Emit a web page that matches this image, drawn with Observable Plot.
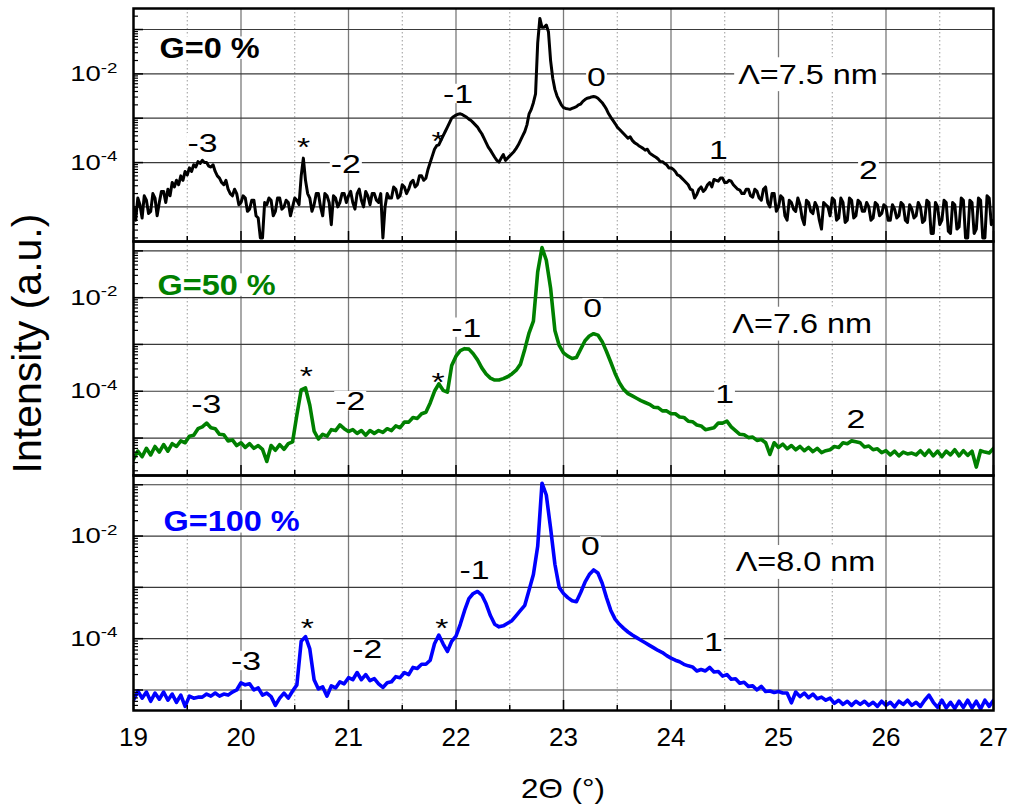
<!DOCTYPE html>
<html><head><meta charset="utf-8">
<script src="https://cdn.jsdelivr.net/npm/d3@7"></script>
<script src="https://cdn.jsdelivr.net/npm/@observablehq/plot@0.6"></script>
<style>
body{margin:0;background:#fff;}
#chart{position:relative;width:1013px;height:806px;font-family:"Liberation Sans",Arial,sans-serif;}
#chart svg{position:absolute;left:0;overflow:visible;}
</style></head><body><div id="chart"></div>
<script>
// ---- sampling positions (2θ, degrees) ----
const twoTheta_G0 = d3.range(0, 401).map(i => +(19 + i * 0.02).toFixed(2));   // step 0.02
const twoTheta_G50_G100 = d3.range(0, 201).map(i => +(19 + i * 0.04).toFixed(2)); // step 0.04

// ---- log10 of intensity (a.u.) ----
const log10I_G0 = [
-5.0,-5.3,-4.8,-4.95,-5.25,-4.75,-4.85,-5.15,-5.1,-4.7,-4.8,-5.2,-4.9,-4.65,-4.65,-4.9,-4.6,-4.75,-4.45,-4.55,
-4.4,-4.5,-4.3,-4.4,-4.2,-4.28,-4.12,-4.2,-4.05,-4.1,-3.98,-4.02,-3.95,-4.0,-4.0,-4.08,-4.1,-4.05,-4.2,-4.3,
-4.35,-4.45,-4.5,-4.4,-4.6,-4.7,-4.75,-4.6,-4.7,-4.95,-4.9,-4.75,-4.8,-5.1,-5.05,-4.85,-4.85,-5.2,-5.25,-5.7,
-5.7,-4.9,-4.95,-4.8,-4.85,-5.2,-5.1,-4.8,-4.8,-5.05,-5.0,-4.85,-4.9,-5.2,-5.0,-4.8,-4.85,-4.95,-4.3,-3.9,
-4.4,-4.7,-4.8,-5.1,-4.95,-4.7,-4.7,-5.0,-5.2,-4.7,-4.75,-4.9,-5.4,-4.75,-4.8,-5.0,-4.9,-4.7,-4.7,-4.9,
-4.75,-4.65,-4.9,-5.05,-4.7,-4.6,-4.85,-5.0,-4.65,-4.75,-4.95,-4.7,-4.7,-4.85,-4.9,-4.7,-5.7,-5.0,-4.7,-4.8,
-4.8,-4.55,-4.6,-4.8,-4.75,-4.5,-4.55,-4.7,-4.6,-4.45,-4.4,-4.55,-4.5,-4.3,-4.3,-4.4,-4.35,-4.15,-4.0,-3.85,
-3.7,-3.62,-3.6,-3.5,-3.4,-3.3,-3.2,-3.1,-3.0,-2.96,-2.93,-2.91,-2.9,-2.92,-2.95,-2.98,-3.02,-3.05,-3.1,-3.15,
-3.2,-3.28,-3.35,-3.45,-3.55,-3.65,-3.72,-3.8,-3.88,-3.95,-3.99,-3.9,-3.82,-3.95,-3.9,-3.85,-3.8,-3.75,-3.68,-3.6,
-3.5,-3.4,-3.3,-3.15,-2.9,-2.8,-2.65,-2.45,-1.3,-0.75,-0.95,-0.95,-0.9,-1.05,-1.7,-2.1,-2.35,-2.5,-2.6,-2.7,
-2.76,-2.78,-2.79,-2.8,-2.78,-2.76,-2.74,-2.7,-2.68,-2.62,-2.58,-2.55,-2.54,-2.52,-2.51,-2.52,-2.55,-2.6,-2.65,-2.72,
-2.8,-2.9,-2.98,-3.05,-3.12,-3.2,-3.25,-3.3,-3.35,-3.4,-3.45,-3.42,-3.5,-3.55,-3.58,-3.62,-3.65,-3.68,-3.72,-3.7,
-3.78,-3.82,-3.85,-3.88,-3.92,-3.98,-3.98,-4.02,-4.05,-4.12,-4.12,-4.15,-4.2,-4.28,-4.3,-4.35,-4.4,-4.45,-4.5,-4.6,
-4.62,-4.8,-4.72,-4.6,-4.55,-4.65,-4.6,-4.5,-4.45,-4.55,-4.38,-4.4,-4.42,-4.35,-4.35,-4.45,-4.45,-4.4,-4.42,-4.5,
-4.55,-4.6,-4.62,-4.7,-4.7,-4.6,-4.6,-4.75,-4.78,-4.6,-4.65,-4.8,-4.85,-4.6,-4.55,-4.9,-5.0,-4.7,-4.7,-5.1,
-5.0,-4.75,-4.8,-5.2,-5.3,-4.85,-4.9,-5.05,-5.1,-4.8,-4.95,-5.25,-5.4,-4.85,-4.9,-5.1,-5.15,-4.9,-5.0,-5.3,
-5.5,-4.9,-4.95,-5.0,-5.2,-4.8,-4.85,-5.3,-5.25,-4.8,-4.9,-5.35,-5.3,-4.8,-4.85,-5.25,-5.2,-4.85,-4.9,-5.1,
-5.1,-4.9,-5.0,-5.3,-5.25,-4.9,-4.95,-5.2,-5.15,-4.95,-5.0,-5.3,-5.3,-4.95,-5.05,-5.25,-5.2,-4.9,-4.95,-5.3,
-5.35,-4.95,-5.05,-5.25,-5.2,-4.9,-5.0,-5.35,-5.3,-4.85,-4.9,-5.6,-5.6,-4.9,-5.0,-5.4,-5.3,-4.85,-4.9,-5.55,
-5.6,-4.9,-4.95,-5.5,-5.45,-4.8,-4.85,-5.7,-5.7,-4.85,-4.9,-5.6,-5.5,-4.8,-4.85,-5.7,-5.7,-4.75,-4.8,-5.4,
-5.3
];
const log10I_G50 = [
-5.45,-5.28,-5.4,-5.22,-5.36,-5.18,-5.3,-5.14,-5.28,-5.12,
-5.18,-5.06,-5.1,-4.96,-4.94,-4.8,-4.76,-4.68,-4.78,-4.8,
-4.92,-4.93,-5.06,-5.04,-5.16,-5.1,-5.2,-5.12,-5.22,-5.16,
-5.24,-5.5,-5.16,-5.26,-5.14,-5.24,-5.12,-5.08,-4.5,-3.97,
-3.93,-4.3,-4.85,-5.02,-4.92,-4.96,-4.82,-4.84,-4.72,-4.8,
-4.86,-4.82,-4.9,-4.84,-4.94,-4.84,-4.9,-4.84,-4.88,-4.8,
-4.84,-4.74,-4.78,-4.66,-4.66,-4.56,-4.58,-4.48,-4.45,-4.25,
-4.0,-3.84,-3.98,-4.02,-3.45,-3.25,-3.13,-3.09,-3.1,-3.2,
-3.33,-3.5,-3.63,-3.72,-3.76,-3.76,-3.73,-3.69,-3.63,-3.55,
-3.42,-3.1,-2.75,-2.5,-1.45,-0.93,-1.2,-1.8,-2.7,-3.02,
-3.18,-3.25,-3.3,-3.28,-3.1,-2.92,-2.82,-2.77,-2.8,-2.94,
-3.15,-3.38,-3.62,-3.82,-3.96,-4.05,-4.1,-4.15,-4.2,-4.24,
-4.28,-4.34,-4.35,-4.42,-4.42,-4.48,-4.48,-4.55,-4.56,-4.64,
-4.65,-4.72,-4.74,-4.82,-4.8,-4.78,-4.68,-4.68,-4.64,-4.76,
-4.84,-4.92,-4.93,-4.99,-4.98,-5.05,-5.03,-5.1,-5.35,-5.1,
-5.2,-5.13,-5.23,-5.16,-5.25,-5.18,-5.27,-5.2,-5.29,-5.22,
-5.31,-5.27,-5.25,-5.18,-5.2,-5.1,-5.12,-5.06,-5.08,-5.1,
-5.19,-5.17,-5.25,-5.23,-5.31,-5.27,-5.36,-5.28,-5.38,-5.3,
-5.34,-5.32,-5.36,-5.27,-5.37,-5.26,-5.38,-5.28,-5.4,-5.28,
-5.36,-5.25,-5.38,-5.27,-5.37,-5.28,-5.62,-5.27,-5.3,-5.32,
-5.22
];
const log10I_G100 = [
-5.2,-5.02,-5.16,-5.04,-5.22,-5.06,-5.18,-5.04,-5.2,-5.08,
-5.24,-5.1,-5.32,-5.12,-5.16,-5.14,-5.14,-5.08,-5.12,-5.06,
-5.12,-5.08,-5.1,-5.04,-5.0,-4.86,-4.9,-4.88,-5.0,-4.96,
-5.1,-5.06,-5.13,-5.3,-5.16,-5.06,-5.16,-5.02,-4.9,-4.05,
-3.96,-4.2,-4.8,-4.98,-4.94,-5.12,-4.92,-4.96,-4.84,-4.88,
-4.76,-4.8,-4.66,-4.8,-4.7,-4.82,-4.78,-4.88,-4.95,-4.86,
-4.84,-4.74,-4.76,-4.66,-4.7,-4.56,-4.58,-4.5,-4.5,-4.42,
-4.1,-3.93,-4.1,-4.25,-4.05,-3.95,-3.72,-3.45,-3.22,-3.12,
-3.08,-3.15,-3.32,-3.55,-3.72,-3.77,-3.75,-3.7,-3.65,-3.55,
-3.45,-3.35,-3.05,-2.75,-2.2,-0.97,-1.2,-1.85,-2.55,-3.0,
-3.12,-3.2,-3.26,-3.28,-3.1,-2.9,-2.75,-2.66,-2.72,-2.92,
-3.2,-3.45,-3.62,-3.72,-3.8,-3.87,-3.93,-3.98,-4.03,-4.08,
-4.13,-4.18,-4.23,-4.27,-4.33,-4.38,-4.42,-4.45,-4.5,-4.53,
-4.55,-4.63,-4.6,-4.63,-4.56,-4.65,-4.64,-4.73,-4.7,-4.79,
-4.78,-4.87,-4.85,-4.93,-4.92,-5.0,-4.93,-5.03,-5.02,-5.05,
-5.03,-5.06,-5.06,-5.25,-5.04,-5.13,-5.06,-5.15,-5.08,-5.17,
-5.14,-5.2,-5.16,-5.26,-5.2,-5.28,-5.22,-5.3,-5.22,-5.28,
-5.22,-5.3,-5.24,-5.32,-5.22,-5.3,-5.24,-5.33,-5.22,-5.28,
-5.2,-5.3,-5.24,-5.32,-5.2,-5.1,-5.24,-5.34,-5.2,-5.35,
-5.24,-5.36,-5.22,-5.34,-5.2,-5.35,-5.22,-5.37,-5.2,-5.32,
-5.2
];

// ---- annotation texts (positions in data units: 2θ, log10 I) ----
const sampleNames = ["G=0 %", "G=50 %", "G=100 %"];
const sampleNameX = [19.242, 19.223, 19.279];
const sampleNameLogY = [-1.43, -1.74, -1.73];
const periodTexts = ["Λ=7.5 nm", "Λ=7.6 nm", "Λ=8.0 nm"];
const periodX = [25.274, 25.22, 25.251];
const periodLogY = [-2.027, -2.574, -2.522];
const peakText_G0 = ["-3", "*", "-2", "*", "-1", "0", "1", "2"];
const peakX_G0 = [19.642, 20.581, 20.975, 21.833, 22.019, 23.307, 24.44, 25.837];
const peakLogY_G0 = [-3.578, -3.668, -4.047, -3.537, -2.467, -2.09, -3.727, -4.178];
const peakText_G50 = ["-3", "*", "-2", "*", "-1", "0", "1", "2"];
const peakX_G50 = [19.676, 20.607, 21.016, 21.833, 22.095, 23.272, 24.498, 25.721];
const peakLogY_G50 = [-4.293, -3.684, -4.222, -3.827, -2.655, -2.236, -4.079, -4.613];
const peakText_G100 = ["-3", "*", "-2", "*", "-1", "0", "1"];
const peakX_G100 = [20.047, 20.616, 21.174, 21.868, 22.172, 23.251, 24.395];
const peakLogY_G100 = [-4.447, -3.798, -4.221, -3.798, -2.683, -2.214, -4.076];

// ---- axes / ticks ----
const xTickLabels = [19, 20, 21, 22, 23, 24, 25, 26, 27];
const xIntGrid = [20, 21, 22, 23, 24, 25, 26];
const xHalfTicks = [19.5, 20.5, 21.5, 22.5, 23.5, 24.5, 25.5, 26.5];
const yDecades = [1e-5, 1e-4, 1e-3, 1e-2, 1e-1];
const yTickLabels = [1e-4, 1e-2];
const xTitle = "2Θ (°)";
const yTitle = "Intensity (a.u.)";

// ---- layout / style ----
const colors = ["#000000", "#008000", "#0000ff"];
const lineWidths = [3.0, 3.6, 3.6];
const series = [log10I_G0, log10I_G50, log10I_G100];
const xs = [twoTheta_G0, twoTheta_G50_G100, twoTheta_G50_G100];
const peakTexts = [peakText_G0, peakText_G50, peakText_G100];
const peakXs = [peakX_G0, peakX_G50, peakX_G100];
const peakLogYs = [peakLogY_G0, peakLogY_G50, peakLogY_G100];
const layout = [
  {top: 0, height: 241, marginTop: 8, marginBottom: 0, yLog: [-5.78, -0.526]},
  {top: 241, height: 234, marginTop: 0, marginBottom: 0, yLog: [-5.80, -0.80]},
  {top: 475, height: 331, marginTop: 0, marginBottom: 96, yLog: [-5.40, -0.82]}
];
const FONT = "Liberation Sans, Arial, Helvetica, sans-serif";
const NS = "http://www.w3.org/2000/svg";
const chart = document.getElementById("chart");

function stretch(t, sx) {
  const tr = t.getAttribute("transform") || "";
  t.setAttribute("transform", (tr + ` scale(${sx},1)`).trim());
}
function addBackgrounds(svg, g, fs, trimTop, trimBottom, padX, padY) {
  const sr = svg.getBoundingClientRect();
  for (const t of g.querySelectorAll("text")) {
    const r = t.getBoundingClientRect();
    const rect = document.createElementNS(NS, "rect");
    const top = r.top - sr.top + trimTop * fs - padY;
    const bottom = r.bottom - sr.top - trimBottom * fs + padY;
    rect.setAttribute("x", r.left - sr.left - padX);
    rect.setAttribute("y", top);
    rect.setAttribute("width", r.width + 2 * padX);
    rect.setAttribute("height", bottom - top);
    rect.setAttribute("fill", "#ffffff");
    g.parentNode.insertBefore(rect, g);
  }
}

layout.forEach((L, p) => {
  const domain = [10 ** L.yLog[0], 10 ** L.yLog[1]];
  const data = xs[p].map((x, i) => ({x, I: 10 ** series[p][i]}));
  const decades = yDecades.filter(d => d >= domain[0] && d <= domain[1]);
  const minor = [];
  for (let e = -7; e <= 0; e++) for (let m = 2; m <= 9; m++) {
    const v = m * 10 ** e;
    if (v >= domain[0] && v <= domain[1]) minor.push(v);
  }
  const peaks = peakTexts[p].map((t, i) => ({t, x: peakXs[p][i], I: 10 ** peakLogYs[p][i]}));
  const marks = [
    Plot.ruleX(xHalfTicks, {stroke: "#9a9a9a", strokeWidth: 1, strokeDasharray: "1.5,2.5"}),
    Plot.ruleX(xIntGrid, {stroke: "#7a7a7a", strokeWidth: 1.3}),
    Plot.ruleY(decades, {stroke: "#3a3a3a", strokeWidth: 1.2}),
    Plot.text([sampleNames[p]], {x: () => sampleNameX[p], y: () => 10 ** sampleNameLogY[p], text: d => d,
      fill: colors[p], fontSize: 29, fontWeight: "bold", textAnchor: "start", lineAnchor: "middle"}),
    Plot.text([periodTexts[p]], {x: () => periodX[p], y: () => 10 ** periodLogY[p], text: d => d,
      fill: "#000", fontSize: 27, textAnchor: "middle", lineAnchor: "middle"}),
    Plot.text(peaks, {x: "x", y: "I", text: "t", fill: "#000", fontSize: 26, textAnchor: "middle", lineAnchor: "middle"}),
    Plot.line(data, {x: "x", y: "I", stroke: colors[p], strokeWidth: lineWidths[p], strokeLinejoin: "round", clip: true}),
    Plot.axisY(minor, {anchor: "left", tickSize: -5, tickFormat: () => "", label: null, strokeWidth: 1.2}),
    Plot.axisY(decades, {anchor: "left", tickSize: -10, tickFormat: () => "", label: null, strokeWidth: 1.5}),
    Plot.axisY(yTickLabels, {anchor: "left", tickSize: 0, tickPadding: 16, fontSize: 22, label: null,
      tickFormat: d => "10^" + Math.round(Math.log10(d))}),
    Plot.axisX(xHalfTicks, {anchor: "bottom", tickSize: -5, tickFormat: () => "", label: null, strokeWidth: 1.5}),
    Plot.axisX(xTickLabels, {anchor: "bottom", tickSize: -10, tickFormat: () => "", label: null, strokeWidth: 1.5}),
    Plot.frame({stroke: "#000", strokeWidth: 2.5})
  ];
  if (p === 2) {
    marks.push(Plot.axisX(xTickLabels, {anchor: "bottom", tickSize: 0, tickPadding: 17, fontSize: 26, label: null,
      tickFormat: d => String(d)}));
  }
  const svg = Plot.plot({
    width: 1013, height: L.height,
    marginLeft: 133, marginRight: 20, marginTop: L.marginTop, marginBottom: L.marginBottom,
    x: {domain: [19, 27], axis: null},
    y: {type: "log", domain, axis: null},
    style: {fontFamily: FONT, overflow: "visible", background: "transparent", color: "#000"},
    marks
  });
  svg.style.top = L.top + "px";
  chart.appendChild(svg);

  for (const g of svg.querySelectorAll('g[aria-label="y-axis tick label"]')) g.setAttribute("font-size", "22");
  for (const g of svg.querySelectorAll('g[aria-label="x-axis tick label"]')) g.setAttribute("font-size", "26");

  // superscript exponents on y tick labels
  for (const t of svg.querySelectorAll('g[aria-label="y-axis tick label"] text')) {
    const s = t.textContent;
    if (!s.includes("^")) continue;
    const [base, ex] = s.split("^");
    while (t.firstChild) t.removeChild(t.firstChild);
    t.appendChild(document.createTextNode(base));
    const sp = document.createElementNS(NS, "tspan");
    sp.setAttribute("dy", "-0.55em");
    sp.setAttribute("font-size", "15");
    sp.textContent = ex;
    t.appendChild(sp);
    stretch(t, 1.25);
  }
  // annotation texts: stretch + white backgrounds
  const groups = svg.querySelectorAll('g[aria-label="text"]');
  const cfg = [
    {sx: 1.12, fs: 29, tt: 0.17, tb: 0.19, px: 1, py: 0},
    {sx: 1.2, fs: 27, tt: 0, tb: 0, px: 4, py: 2},
    {sx: 1.3, fs: 26, tt: 0.16, tb: 0.19, px: 1, py: 0}
  ];
  groups.forEach((g, k) => {
    const c = cfg[k];
    if (!c) return;
    for (const t of g.querySelectorAll("text")) stretch(t, c.sx);
    addBackgrounds(svg, g, c.fs, c.tt, c.tb, c.px, c.py);
  });

  if (p === 1) {
    const t = document.createElementNS(NS, "text");
    t.setAttribute("transform", `translate(41,${343.5 - L.top}) rotate(-90)`);
    t.setAttribute("text-anchor", "middle");
    t.setAttribute("font-size", "41");
    t.setAttribute("font-family", FONT);
    t.setAttribute("fill", "#000");
    t.textContent = yTitle;
    svg.appendChild(t);
  }
  if (p === 2) {
    const t = document.createElementNS(NS, "text");
    t.setAttribute("transform", `translate(563,${798 - L.top}) scale(1.12,1)`);
    t.setAttribute("text-anchor", "middle");
    t.setAttribute("font-size", "28");
    t.setAttribute("font-family", FONT);
    t.setAttribute("fill", "#000");
    t.textContent = xTitle;
    svg.appendChild(t);
  }
});
</script></body></html>
